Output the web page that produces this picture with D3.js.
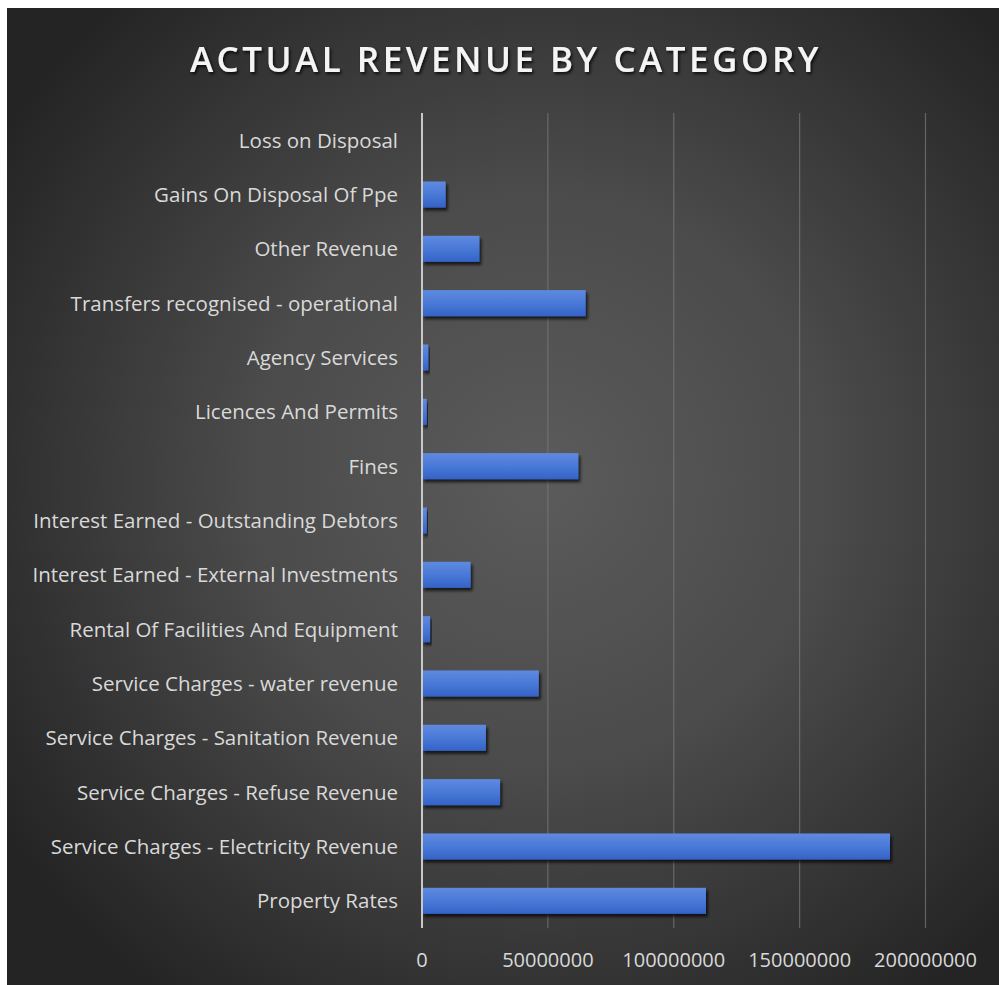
<!DOCTYPE html>
<html>
<head>
<meta charset="utf-8">
<script src="https://cdn.jsdelivr.net/npm/d3@7"></script>
<style>
  html, body { margin: 0; padding: 0; background: #ffffff; }
  svg { display: block; }
</style>
</head>
<body>
<div id="chart"></div>
<script>
// Revenue categories, listed top to bottom as drawn
const categories = [
  "Loss on Disposal",
  "Gains On Disposal Of Ppe",
  "Other Revenue",
  "Transfers recognised - operational",
  "Agency Services",
  "Licences And Permits",
  "Fines",
  "Interest Earned - Outstanding Debtors",
  "Interest Earned - External Investments",
  "Rental Of Facilities And Equipment",
  "Service Charges - water revenue",
  "Service Charges - Sanitation Revenue",
  "Service Charges - Refuse Revenue",
  "Service Charges - Electricity Revenue",
  "Property Rates"
];

// Actual revenue per category
const revenue = [
  0,
  9400000,
  22800000,
  65000000,
  2500000,
  1900000,
  62100000,
  1900000,
  19300000,
  3200000,
  46400000,
  25400000,
  31000000,
  185900000,
  112800000
];

const xTicks = [0, 50000000, 100000000, 150000000, 200000000];
const titleText = "ACTUAL REVENUE BY CATEGORY";

const W = 999, H = 985;
const frame = { x: 7, y: 8, w: W - 7, h: H - 8 };
const plot = { left: 422, right: 925.5, top: 113, bottom: 928 };
const labelFont = "'Open Sans', sans-serif";

const svg = d3.select("#chart").append("svg")
  .attr("width", W).attr("height", H);

const defs = svg.append("defs");

const bg = defs.append("radialGradient").attr("id", "bgGrad")
  .attr("gradientUnits", "userSpaceOnUse")
  .attr("cx", 540).attr("cy", 480).attr("r", 640);
bg.append("stop").attr("offset", "0%").attr("stop-color", "#5b5b5b");
bg.append("stop").attr("offset", "45%").attr("stop-color", "#4b4b4b");
bg.append("stop").attr("offset", "100%").attr("stop-color", "#242424");

const barGrad = defs.append("linearGradient").attr("id", "barGrad")
  .attr("x1", 0).attr("y1", 0).attr("x2", 0).attr("y2", 1);
barGrad.append("stop").attr("offset", "0%").attr("stop-color", "#5f8ae0");
barGrad.append("stop").attr("offset", "55%").attr("stop-color", "#4777d6");
barGrad.append("stop").attr("offset", "100%").attr("stop-color", "#3462c6");

const barShadow = defs.append("filter").attr("id", "barShadow")
  .attr("x", "-10%").attr("y", "-30%").attr("width", "130%").attr("height", "180%");
barShadow.append("feDropShadow")
  .attr("dx", 2).attr("dy", 3).attr("stdDeviation", 1.8)
  .attr("flood-color", "#000").attr("flood-opacity", 0.7);

const textShadow = defs.append("filter").attr("id", "textShadow")
  .attr("x", "-10%").attr("y", "-30%").attr("width", "120%").attr("height", "170%");
textShadow.append("feDropShadow")
  .attr("dx", 1.5).attr("dy", 2).attr("stdDeviation", 1.5)
  .attr("flood-color", "#000").attr("flood-opacity", 0.8);

// Chart background
svg.append("rect")
  .attr("x", frame.x).attr("y", frame.y)
  .attr("width", frame.w).attr("height", frame.h)
  .attr("fill", "url(#bgGrad)");

// Title
svg.append("text")
  .attr("x", 506).attr("y", 72)
  .attr("text-anchor", "middle")
  .attr("font-family", "'Open Sans', sans-serif")
  .attr("font-weight", 600)
  .attr("font-size", 35)
  .attr("letter-spacing", 3.5)
  .attr("fill", "#f4f4f4")
  .attr("filter", "url(#textShadow)")
  .text(titleText);

const x = d3.scaleLinear()
  .domain([0, 200000000])
  .range([plot.left, plot.right]);

const y = d3.scaleBand()
  .domain(categories)
  .range([plot.top, plot.bottom])
  .paddingInner(0.52)
  .paddingOuter(0.26);

// Vertical gridlines
svg.append("g")
  .selectAll("line")
  .data(xTicks.slice(1))
  .join("line")
  .attr("x1", d => x(d)).attr("x2", d => x(d))
  .attr("y1", plot.top).attr("y2", plot.bottom)
  .attr("stroke", "#7a7a7a")
  .attr("stroke-opacity", 0.7)
  .attr("stroke-width", 1.2);

// Bars
svg.append("g")
  .selectAll("rect")
  .data(categories.map((c, i) => ({ c, v: revenue[i] })))
  .join("rect")
  .attr("x", x(0))
  .attr("y", d => y(d.c))
  .attr("width", d => x(d.v) - x(0))
  .attr("height", y.bandwidth())
  .attr("fill", "url(#barGrad)")
  .attr("filter", "url(#barShadow)");

// Category axis line
svg.append("line")
  .attr("x1", x(0)).attr("x2", x(0))
  .attr("y1", plot.top).attr("y2", plot.bottom)
  .attr("stroke", "#c8c8c8")
  .attr("stroke-width", 2);

// Category labels
svg.append("g")
  .selectAll("text")
  .data(categories)
  .join("text")
  .attr("x", 398)
  .attr("y", d => y(d) + y.bandwidth() / 2)
  .attr("dy", "0.36em")
  .attr("text-anchor", "end")
  .attr("font-family", labelFont)
  .attr("font-size", 20.5)
  .attr("fill", "#d9d9d9")
  .text(d => d);

// Value axis labels
svg.append("g")
  .selectAll("text")
  .data(xTicks)
  .join("text")
  .attr("x", d => x(d))
  .attr("y", 960)
  .attr("dy", "0.36em")
  .attr("text-anchor", "middle")
  .attr("font-family", labelFont)
  .attr("font-size", 20)
  .attr("fill", "#d9d9d9")
  .text(d => d3.format("d")(d));
</script>
</body>
</html>
